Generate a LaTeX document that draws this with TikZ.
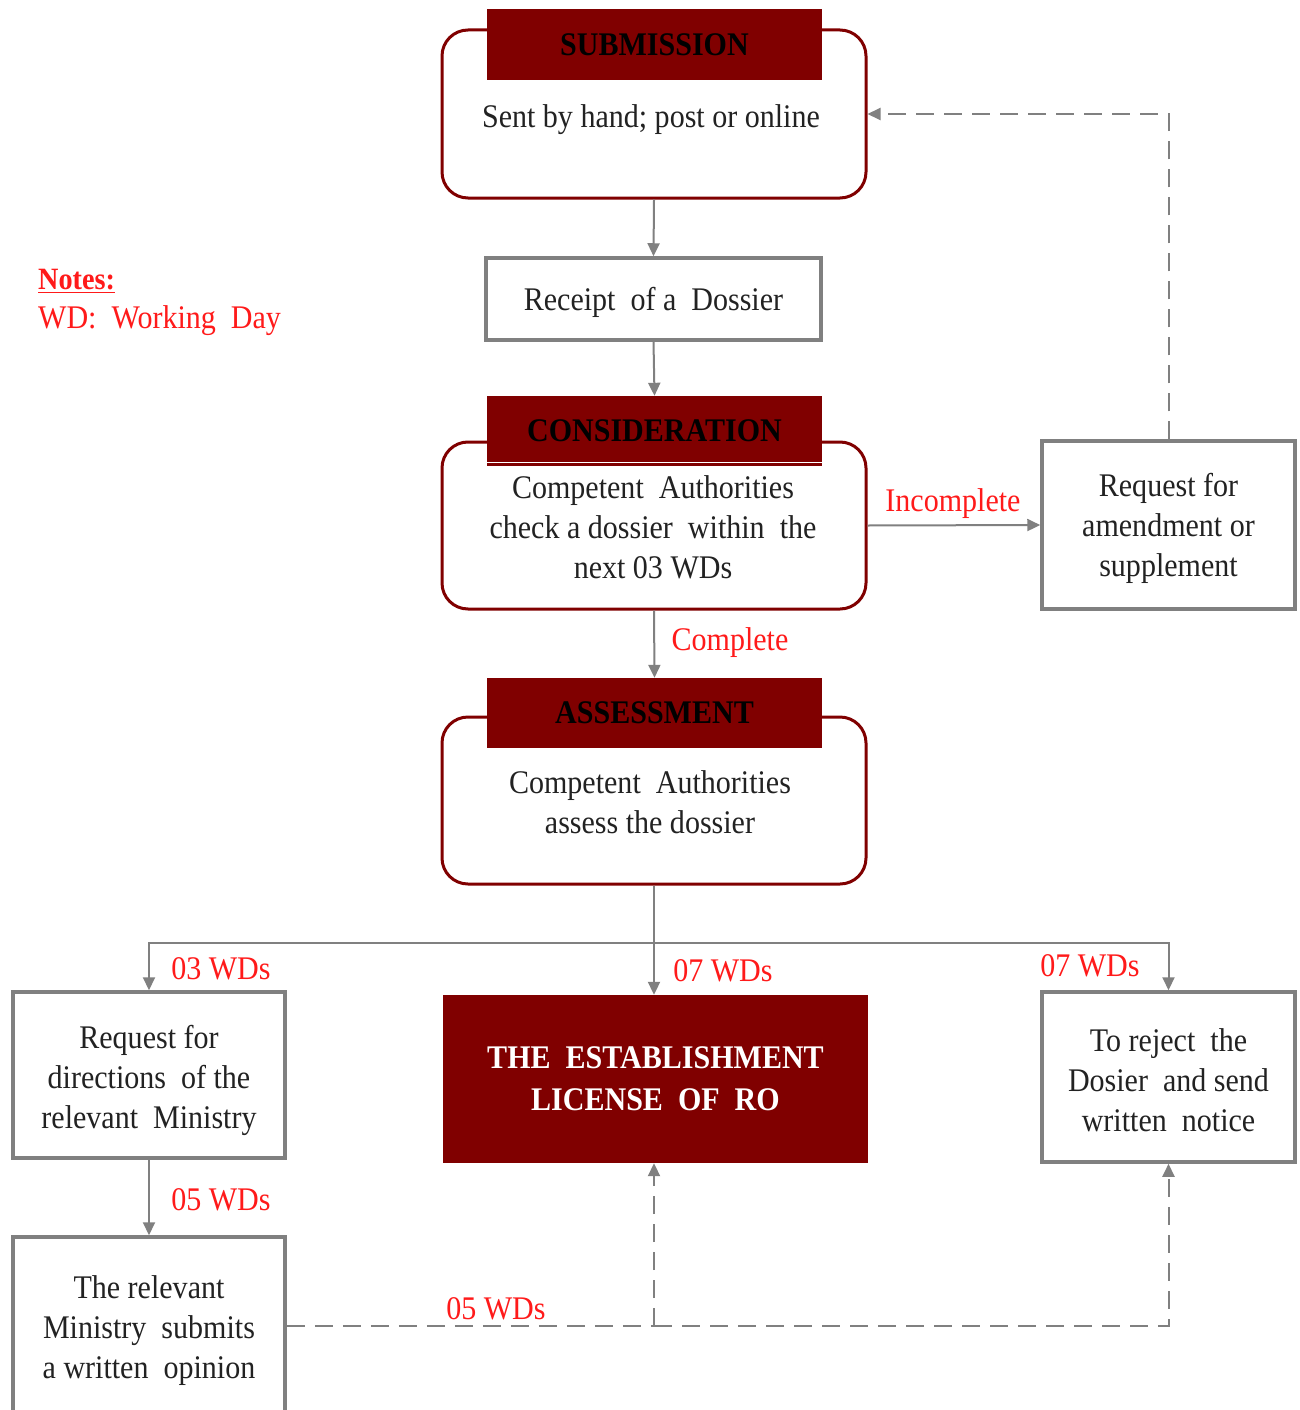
\documentclass[tikz,border=0pt]{standalone}
\usepackage{fontspec}
\setmainfont{Liberation Serif}[FakeStretch=0.91]
\usetikzlibrary{arrows.meta,positioning,calc}
\definecolor{dred}{HTML}{800000}
\definecolor{lgray}{HTML}{808080}
\definecolor{tred}{HTML}{FF1A1A}
\definecolor{tblk}{HTML}{222222}
\tikzset{
  bodyfont/.style={font=\fontsize{33}{40}\selectfont, text=tblk},
  bodytext/.style={bodyfont, align=center, inner sep=0pt},
  roundbox/.style={draw=dred, line width=3pt, rounded corners=26pt, fill=white, inner sep=0pt},
  headbox/.style={fill=dred, draw=none, font=\bfseries\fontsize{33}{38}\selectfont, text=black, inner sep=0pt},
  graybox/.style={draw=lgray, line width=3.5pt, fill=white, inner sep=0pt},
  licbox/.style={fill=dred, draw=none, text=white, font=\bfseries\fontsize{33}{42}\selectfont, align=center, inner sep=0pt},
  conn/.style={draw=lgray, line width=2pt, -{Triangle[length=13pt,width=12pt]}},
  dconn/.style={draw=lgray, line width=2pt, dash pattern=on 18pt off 10pt, -{Triangle[length=13pt,width=12pt]}},
  plainline/.style={draw=lgray, line width=2pt},
  lbl/.style={text=tred, font=\fontsize{33}{38}\selectfont, inner sep=0pt},
}
\begin{document}
\begin{tikzpicture}[x=1pt,y=-1pt]
\useasboundingbox (0,0) rectangle (1300,1410);
\clip (0,0) rectangle (1300,1410);
\fill[white] (0,0) rectangle (1300,1410);

% submission
\node[roundbox, minimum width=424pt, minimum height=168pt] (sub) at (654,114) {};
\node[bodytext] (subtxt) at (651,120) {Sent by hand; post or online};
\node[headbox, minimum width=335pt, minimum height=71pt] (subhead) at (654.5,44.5) {SUBMISSION};

% receipt
\node[graybox, minimum width=335pt, minimum height=82pt] (rec) at (653.5,299) {};
\node[bodytext] (rectxt) at ($(rec.center)+(0,3)$) {Receipt\ \ of a\ \ Dossier};

% consideration
\node[roundbox, minimum width=424pt, minimum height=167pt] (con) at (654,525.5) {};
\node[bodytext] (contxt) at (653,527) {Competent\ \ Authorities\\check a dossier\ \ within\ \ the\\next 03 WDs};
\node[headbox, minimum width=335pt, minimum height=70pt] (conhead) at (654.5,431) {CONSIDERATION};
\draw[white, line width=1pt] (conhead.south west) ++(0,-4) -- ++(335,0);

% amendment
\node[graybox, minimum width=253pt, minimum height=168pt] (amend) at (1168.5,525) {};
\node[bodytext] (amendtxt) at ($(amend.center)+(0,3)$) {Request for\\amendment or\\supplement};

% assessment
\node[roundbox, minimum width=424pt, minimum height=167pt] (ass) at (654,800.5) {};
\node[bodytext] (asstxt) at (650,802) {Competent\ \ Authorities\\assess the dossier};
\node[headbox, minimum width=335pt, minimum height=70pt] (asshead) at (654.5,713) {ASSESSMENT};

% bottom row
\node[graybox, minimum width=272pt, minimum height=166pt] (left1) at (149,1075) {};
\node[bodytext] (left1txt) at ($(left1.center)+(0,5)$) {Request for\\directions\ \ of the\\relevant\ \ Ministry};
\node[licbox, minimum width=425pt, minimum height=168pt] (lic) at (655.5,1079) {THE\ \ ESTABLISHMENT\\LICENSE\ \ OF\ \ RO};
\node[graybox, minimum width=253pt, minimum height=170pt] (rej) at (1168.5,1077) {};
\node[bodytext] (rejtxt) at ($(rej.center)+(0,3)$) {To reject\ \ the\\Dosier\ \ and send\\written\ \ notice};
\node[graybox, minimum width=272pt, minimum height=184pt] (left2) at (149,1329) {};
\node[bodytext] (left2txt) at ($(left2.center)+(0,2)$) {The relevant\\Ministry\ \ submits\\a written\ \ opinion};

% notes
\node[anchor=west, text=tred, font=\bfseries\fontsize{31}{36}\selectfont, inner sep=0pt] (notes) at (38,281) {\underline{Notes:}};
\node[anchor=west, text=tred, font=\fontsize{33}{38}\selectfont, inner sep=0pt] (wd) at (38,321) {WD:\ \ Working\ \ Day};

% connectors
\draw[conn] (sub.south) -- (rec.north);
\draw[conn] (rec.south) -- (conhead.north);
\draw[conn] (con.east) -- (amend.west);
\node[lbl] (lincomplete) at (953,504) {Incomplete};
\draw[dconn] (amend.north) |- (sub.east);
\draw[conn] (con.south) -- (asshead.north);
\node[lbl] (lcomplete) at (730,643) {Complete};

\coordinate (split) at (654,943);
\draw[plainline] (ass.south) -- (split);
\draw[conn] (split) -- (split |- lic.north);
\draw[conn] (split) -| (left1.north);
\draw[conn] (split) -| (rej.north);
\node[lbl] (l03) at (221,969) {03 WDs};
\node[lbl] (l07a) at (723,971) {07 WDs};
\node[lbl] (l07b) at (1090,966) {07 WDs};

\draw[conn] (left1.south) -- (left2.north);
\node[lbl] (l05a) at (221,1200) {05 WDs};

\coordinate (dj) at (654,1326);
\draw[lgray, line width=2pt, dash pattern=on 18pt off 10pt] (left2.east |- dj) -- (dj);
\draw[dconn] (dj) -| (rej.south);
\draw[dconn] (dj) -- (dj |- lic.south);
\node[lbl] (l05b) at (496,1309) {05 WDs};
\end{tikzpicture}
\end{document}
